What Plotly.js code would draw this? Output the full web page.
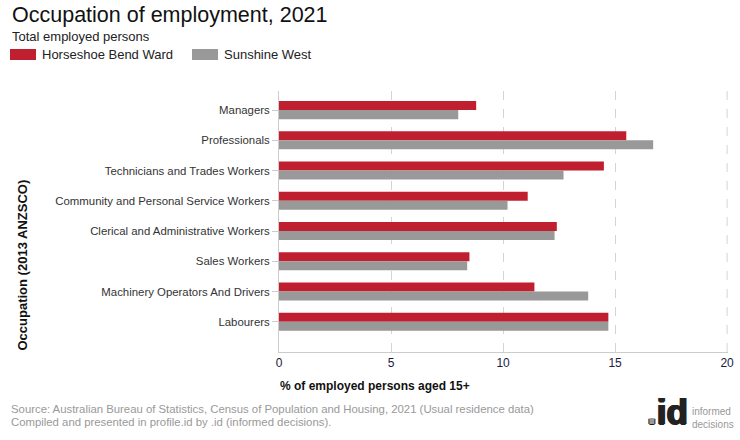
<!DOCTYPE html>
<html>
<head>
<meta charset="utf-8">
<script src="https://cdn.plot.ly/plotly-3.0.1.min.js"></script>
<style>html,body{margin:0;padding:0;background:#fff;}#chart{width:740px;height:440px;}</style>
</head>
<body>
<div id="chart"></div>
<script>
const categories = [
  "Managers",
  "Professionals",
  "Technicians and Trades Workers",
  "Community and Personal Service Workers",
  "Clerical and Administrative Workers",
  "Sales Workers",
  "Machinery Operators And Drivers",
  "Labourers"
];
const seriesNames = ["Horseshoe Bend Ward", "Sunshine West"];
const horseshoeBendWard = [8.8, 15.5, 14.5, 11.1, 12.4, 8.5, 11.4, 14.7];
const sunshineWest = [8.0, 16.7, 12.7, 10.2, 12.3, 8.4, 13.8, 14.7];
const xTicks = [0, 5, 10, 15, 20];

const RED = "#c01f2f", GREY = "#999999";
const FONT = "Liberation Sans, Arial, sans-serif";

const traces = [
  {type: "bar", orientation: "h", name: seriesNames[0], y: categories, x: horseshoeBendWard,
   marker: {color: RED}, hoverinfo: "x+y"},
  {type: "bar", orientation: "h", name: seriesNames[1], y: categories, x: sunshineWest,
   marker: {color: GREY}, hoverinfo: "x+y"}
];

const L = 279, T = 91, B = 88, PW = 449, PH = 261;
const px = v => (v - L) / PW;
const py = v => (440 - B - v) / PH;
const xMax = xTicks[xTicks.length - 1];

const layout = {
  width: 740, height: 440,
  margin: {l: L, r: 740 - L - PW, t: T, b: B},
  paper_bgcolor: "#fff", plot_bgcolor: "#fff",
  font: {family: FONT, size: 12, color: "#333"},
  showlegend: false,
  barmode: "group", bargap: 0.4, bargroupgap: 0,
  xaxis: {
    range: [0, 20.04], tickvals: xTicks, ticktext: xTicks.map(String),
    showgrid: true, gridcolor: "#d4d4d4", griddash: "dash", gridwidth: 1,
    zeroline: false, showline: true, linecolor: "#cccccc", linewidth: 1,
    ticks: "", tickfont: {family: FONT, size: 12, color: "#1a1a3a"},
    fixedrange: true
  },
  yaxis: {
    type: "category", categoryorder: "array", categoryarray: categories,
    range: [8.0, -0.63],
    showgrid: false, zeroline: false, showline: true, linecolor: "#cccccc", linewidth: 1,
    ticks: "outside", ticklen: 6, tickcolor: "#cccccc",
    tickfont: {family: FONT, size: 11.4, color: "#333"},
    fixedrange: true
  },
  shapes: [
    {type: "line", xref: "x", yref: "paper", x0: xMax, x1: xMax, y0: 0, y1: 1,
     line: {color: "#d4d4d4", width: 1, dash: "dash"}, layer: "below"},
    {type: "rect", xref: "paper", yref: "paper", x0: px(10), x1: px(36),
     y0: py(60), y1: py(49), fillcolor: RED, line: {width: 0}},
    {type: "rect", xref: "paper", yref: "paper", x0: px(192), x1: px(218),
     y0: py(60), y1: py(49), fillcolor: GREY, line: {width: 0}}
  ],
  annotations: [
    {text: "Occupation of employment, 2021", xref: "paper", yref: "paper",
     x: px(10), y: py(1), xanchor: "left", yanchor: "top", showarrow: false,
     font: {family: FONT, size: 21.5, color: "#111"}},
    {text: "Total employed persons", xref: "paper", yref: "paper",
     x: px(10), y: py(27), xanchor: "left", yanchor: "top", showarrow: false,
     font: {family: FONT, size: 13, color: "#222"}},
    {text: seriesNames[0], xref: "paper", yref: "paper",
     x: px(40), y: py(54.5), xanchor: "left", yanchor: "middle", showarrow: false,
     font: {family: FONT, size: 13, color: "#222"}},
    {text: seriesNames[1], xref: "paper", yref: "paper",
     x: px(222), y: py(54.5), xanchor: "left", yanchor: "middle", showarrow: false,
     font: {family: FONT, size: 13, color: "#222"}},
    {text: "<b>% of employed persons aged 15+</b>", xref: "paper", yref: "paper",
     x: px(278), y: py(386), xanchor: "left", yanchor: "middle", showarrow: false,
     font: {family: FONT, size: 12, color: "#111"}},
    {text: "<b>Occupation (2013 ANZSCO)</b>", xref: "paper", yref: "paper", textangle: -90,
     x: px(22), y: py(353), xanchor: "center", yanchor: "bottom", showarrow: false,
     font: {family: FONT, size: 13, color: "#111"}},
    {text: "Source: Australian Bureau of Statistics, Census of Population and Housing, 2021 (Usual residence data)",
     xref: "paper", yref: "paper", x: px(9), y: py(408.5), xanchor: "left", yanchor: "middle",
     showarrow: false, font: {family: FONT, size: 11.35, color: "#999"}},
    {text: "Compiled and presented in profile.id by .id (informed decisions).",
     xref: "paper", yref: "paper", x: px(9), y: py(421.5), xanchor: "left", yanchor: "middle",
     showarrow: false, font: {family: FONT, size: 11.35, color: "#999"}},
    {text: "<span style='color:#999'>.</span>id", xref: "paper", yref: "paper", x: px(690), y: py(433),
     xanchor: "right", yanchor: "bottom", showarrow: false,
     font: {family: FONT, size: 35, color: "#222", weight: "bold",
            shadow: "1px 0 0 #222, -1px 0 0 #222, 0 1px 0 #222"}},
    {text: "informed<br>decisions", xref: "paper", yref: "paper", x: px(690), y: py(418),
     xanchor: "left", yanchor: "middle", align: "left", showarrow: false,
     font: {family: FONT, size: 10, color: "#999"}}
  ]
};

Plotly.newPlot("chart", traces, layout, {displayModeBar: false, staticPlot: true});
</script>
</body>
</html>
